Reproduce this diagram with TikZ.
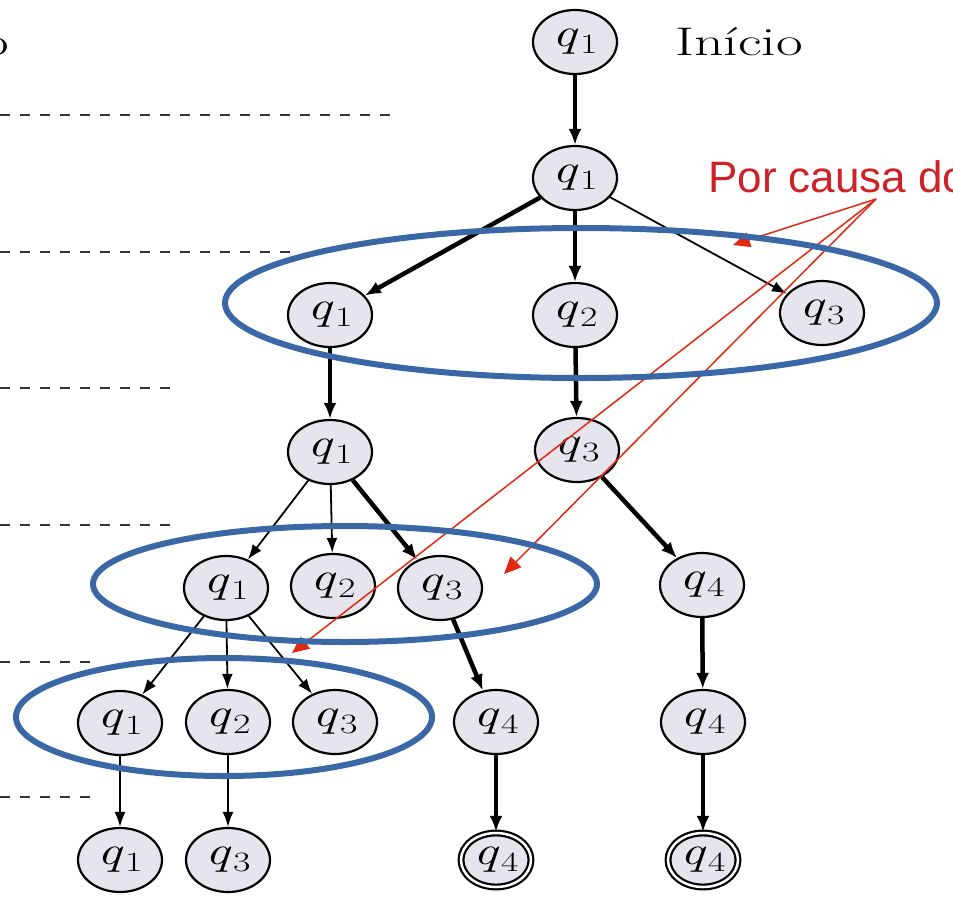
\documentclass[tikz,border=0pt]{standalone}
\usepackage{fontspec}
\newfontfamily\notefont{Liberation Sans}
\usetikzlibrary{shapes.geometric, arrows.meta}
\definecolor{loopblue}{RGB}{58, 103, 166}
\definecolor{notered}{RGB}{204, 34, 40}
\definecolor{arrowred}{RGB}{226, 40, 16}
\definecolor{statefill}{RGB}{230, 228, 236}
\newcommand{\qlab}[1]{\scalebox{1.35}[1]{\textit{q}\kern1pt\raisebox{-7pt}{\fontsize{28}{30}\selectfont #1}}}
\tikzset{
  stnode/.style={ellipse, draw, line width=2.2pt, fill=statefill, minimum width=84pt, minimum height=64pt, inner sep=0pt, font=\fontsize{40}{44}\selectfont},
  accept/.style={stnode, double, double distance=2.5pt, minimum width=70pt, minimum height=54pt},
  thickedge/.style={-{Latex[length=16pt, width=13pt]}, line width=4.5pt},
  thinedge/.style={-{Latex[length=15pt, width=11pt]}, line width=1.8pt},
  rowline/.style={line width=2pt, dash pattern=on 10pt off 10pt, black!80},
  loopmark/.style={loopblue, line width=6pt},
  notearrow/.style={arrowred, line width=1.5pt, -{Triangle[length=17pt, width=15pt]}}
}
\begin{document}
\begin{tikzpicture}[x=1pt, y=-1pt]
\useasboundingbox (0,0) rectangle (953,900);

% levels on the left
\draw[rowline] (0,115) -- (400,115);
\draw[rowline] (0,252) -- (290,252);
\draw[rowline] (0,388) -- (180,388);
\draw[rowline] (0,525) -- (180,525);
\draw[rowline] (0,662) -- (97,662);
\draw[rowline] (0,797) -- (100,797);
\node[anchor=base east, inner sep=0pt, font=\fontsize{40}{44}\selectfont] (cutlabel) at (9,55) {\scalebox{1.45}[1]{o}};
\node[anchor=base west, inner sep=0pt, font=\fontsize{40}{44}\selectfont] (startlabel) at (675,55) {\scalebox{1.45}[1]{Início}};

% states
\node[stnode] (a0) at (575,42) {\qlab1};
\node[stnode] (b1) at (575,178) {\qlab1};
\node[stnode] (c1) at (330,315) {\qlab1};
\node[stnode] (c2) at (575,315) {\qlab2};
\node[stnode] (c3) at (822,313) {\qlab3};
\node[stnode] (d1) at (330,452) {\qlab1};
\node[stnode] (d3) at (577,450) {\qlab3};
\node[stnode] (e1) at (226,588) {\qlab1};
\node[stnode] (e2) at (333,586) {\qlab2};
\node[stnode] (e3) at (440,588) {\qlab3};
\node[stnode] (e4) at (702,585) {\qlab4};
\node[stnode] (f1) at (120,723) {\qlab1};
\node[stnode] (f2) at (228,722) {\qlab2};
\node[stnode] (f3) at (335,722) {\qlab3};
\node[stnode] (f4) at (496,722) {\qlab4};
\node[stnode] (f5) at (703,722) {\qlab4};
\node[stnode] (g1) at (120,860) {\qlab1};
\node[stnode] (g3) at (228,860) {\qlab3};
\node[accept] (g4) at (496,860) {\qlab4};
\node[accept] (g5) at (703,860) {\qlab4};

% branches
\draw[thickedge] (a0) -- (b1);
\draw[thickedge] (b1) -- (c1);
\draw[thickedge] (b1) -- (c2);
\draw[thinedge] (b1) -- (c3);
\draw[thickedge] (c1) -- (d1);
\draw[thickedge] (c2) -- (d3);
\draw[thinedge] (d1) -- (e1);
\draw[thinedge] (d1) -- (e2);
\draw[thickedge] (d1) -- (e3);
\draw[thickedge] (d3) -- (e4);
\draw[thinedge] (e1) -- (f1);
\draw[thinedge] (e1) -- (f2);
\draw[thinedge] (e1) -- (f3);
\draw[thickedge] (e3) -- (f4);
\draw[thickedge] (e4) -- (f5);
\draw[thinedge] (f1) -- (g1);
\draw[thinedge] (f2) -- (g3);
\draw[thickedge] (f4) -- (g4);
\draw[thickedge] (f5) -- (g5);

% note
\node[anchor=base west, inner sep=0pt, text=notered, font=\notefont\fontsize{44}{48}\selectfont] (note) at (708,192) {Por causa do};
\coordinate (notefoot) at (876,199);
\coordinate (tipa) at (733,245);
\coordinate (tipb) at (504,574);
\coordinate (tipc) at (292,653);
\draw[notearrow] (notefoot) -- (tipa);
\draw[notearrow] (notefoot) -- (tipb);
\draw[notearrow] (notefoot) -- (tipc);

% marked groups
\draw[loopmark] (581,303) ellipse [x radius=356pt, y radius=75pt];
\draw[loopmark] (345,584) ellipse [x radius=252pt, y radius=58pt];
\draw[loopmark] (224,717) ellipse [x radius=208pt, y radius=59pt];
\end{tikzpicture}
\end{document}
